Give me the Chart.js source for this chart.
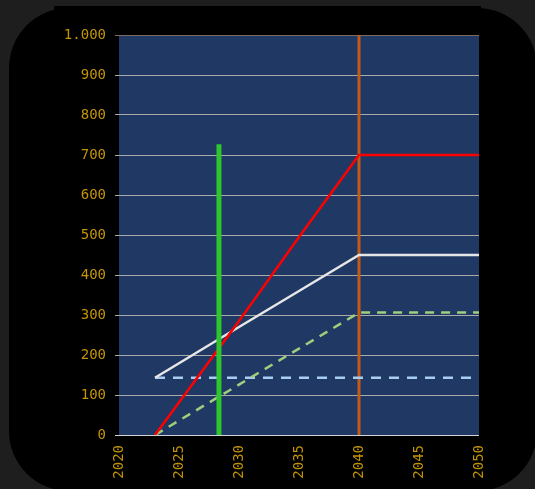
<!DOCTYPE html>
<html lang="de">
<head>
    <meta charset="UTF-8">
    <title>Szenarien 2020-2050</title>
    <script src="https://cdn.jsdelivr.net/npm/chart.js"></script>
    <style>
        html, body {
            margin: 0;
            padding: 0;
            width: 535px;
            height: 489px;
            overflow: hidden;
            background-color: #1e1e1e;
        }
        #panel {
            position: absolute;
            left: 9px;
            top: 8px;
            width: 528px;
            height: 483px;
            border-radius: 60px;
            background-color: #000;
        }
        #topband {
            position: absolute;
            left: 54px;
            top: 6px;
            width: 427px;
            height: 30px;
            background-color: #000;
        }
        #chart {
            position: absolute;
            left: 0;
            top: 0;
        }
    </style>
</head>
<body>
    <div id="panel"></div>
    <div id="topband"></div>
    <canvas id="chart" width="535" height="489"></canvas>

    <script>
        /* Jahre der Stützpunkte */
        const years = [2023, 2030, 2035, 2040, 2050];
        /* rote Linie */
        const redValues = [0, 285, 495, 700, 700];
        /* weiße Linie */
        const whiteValues = [143, 270, 360, 450, 450];
        /* grün gestrichelt */
        const greenDashValues = [0, 126, 216, 306, 306];
        /* blau gestrichelt */
        const blueDashYears = [2023, 2050];
        const blueDashValues = [143, 143];
        /* grüner Balken */
        const barYear = 2028.33;
        const barValue = 727;
        /* orange Markierung */
        const markYear = 2040;
        const markRange = [0, 1000];

        const yTicks = [0, 100, 200, 300, 400, 500, 600, 700, 800, 900, 1000];
        const xTicks = [2020, 2025, 2030, 2035, 2040, 2045, 2050];

        const toPoints = (xs, ys) => xs.map((x, i) => ({ x: x, y: ys[i] }));

        /* Hintergrund der Zeichenfläche */
        const areaBackground = {
            id: 'areaBackground',
            beforeDraw(chart) {
                const a = chart.chartArea;
                const ctx = chart.ctx;
                ctx.save();
                ctx.fillStyle = '#1f3864';
                ctx.fillRect(a.left, a.top, a.right - a.left, a.bottom - a.top);
                ctx.restore();
            }
        };

        const tickFont = { family: "'DejaVu Sans Mono', monospace", size: 14 };
        const tickColor = '#c39405';

        new Chart(document.getElementById('chart'), {
            type: 'line',
            data: {
                datasets: [
                    {
                        data: [{ x: barYear, y: 0 }, { x: barYear, y: barValue }],
                        borderColor: '#2ec52e',
                        borderWidth: 5,
                        borderCapStyle: 'butt',
                        order: 0
                    },
                    {
                        data: toPoints(years, redValues),
                        borderColor: '#ff0000',
                        borderWidth: 2.5,
                        order: 1
                    },
                    {
                        data: toPoints(years, whiteValues),
                        borderColor: '#e6e6e6',
                        borderWidth: 2.5,
                        order: 2
                    },
                    {
                        data: toPoints(years, greenDashValues),
                        borderColor: '#9fcf7c',
                        borderWidth: 2.5,
                        borderDash: [9, 7],
                        order: 3
                    },
                    {
                        data: toPoints(blueDashYears, blueDashValues),
                        borderColor: '#a9cdef',
                        borderWidth: 2.5,
                        borderDash: [10, 8],
                        order: 4
                    },
                    {
                        data: [{ x: markYear, y: markRange[0] }, { x: markYear, y: markRange[1] }],
                        borderColor: '#c25a1a',
                        borderWidth: 3,
                        order: 5
                    }
                ]
            },
            options: {
                responsive: false,
                devicePixelRatio: 1,
                animation: false,
                layout: {
                    padding: { left: 0, right: 56, top: 35, bottom: 0 }
                },
                elements: {
                    point: { radius: 0, hoverRadius: 0 },
                    line: { tension: 0, fill: false }
                },
                plugins: {
                    legend: { display: false },
                    tooltip: { enabled: false },
                    title: { display: false }
                },
                scales: {
                    x: {
                        type: 'linear',
                        min: xTicks[0],
                        max: xTicks[xTicks.length - 1],
                        afterBuildTicks: (scale) => { scale.ticks = xTicks.map(v => ({ value: v })); },
                        afterFit: (scale) => { scale.height = 54; },
                        border: { display: false },
                        grid: { display: false, drawTicks: false },
                        ticks: {
                            minRotation: 90,
                            maxRotation: 90,
                            padding: 10,
                            color: tickColor,
                            font: tickFont,
                            callback: (v) => String(v)
                        }
                    },
                    y: {
                        min: yTicks[0],
                        max: yTicks[yTicks.length - 1],
                        afterBuildTicks: (scale) => { scale.ticks = yTicks.map(v => ({ value: v })); },
                        afterFit: (scale) => { scale.width = 119; },
                        border: { display: false },
                        grid: {
                            color: (c) => c.tick && c.tick.value === 1000 ? '#7f6a5c' : (c.tick && c.tick.value === 0 ? '#d2d2d2' : '#aaaaaa'),
                            lineWidth: 1,
                            drawTicks: true,
                            tickLength: 4
                        },
                        ticks: {
                            padding: 9,
                            color: tickColor,
                            font: tickFont,
                            callback: (v) => String(v).replace(/\B(?=(\d{3})+(?!\d))/g, '.')
                        }
                    }
                }
            },
            plugins: [areaBackground]
        });
    </script>
</body>
</html>
